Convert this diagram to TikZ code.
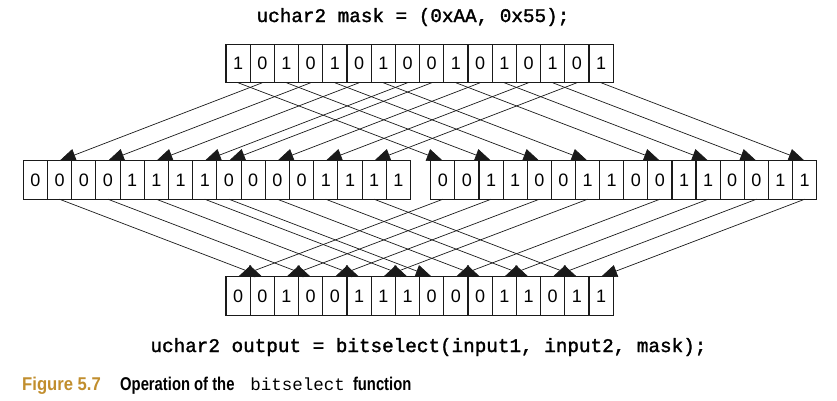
\documentclass[tikz,border=0pt]{standalone}
\usepackage{fontspec}
\setmainfont{Liberation Sans}
\newfontfamily\codefont{Liberation Mono}
\newfontfamily\listfont[FakeBold=1.6]{Liberation Mono}
\newfontfamily\capfont[FakeStretch=0.8]{Liberation Sans}
\newfontfamily\figfont[FakeStretch=0.9]{Liberation Sans}
\usetikzlibrary{arrows.meta}
\definecolor{ink}{HTML}{1A1A1A}
\definecolor{gold}{HTML}{C18E2E}
\tikzset{
  bit/.style={draw=ink,line width=1.1pt,minimum width=24.2pt,minimum height=38.5pt,inner sep=0pt,outer sep=0pt,font=\fontsize{18}{20}\selectfont},
  wire/.style={-{Triangle[length=16pt,width=12.5pt]},line width=0.7pt,ink},
  code/.style={anchor=base,inner sep=0pt,font=\listfont\fontsize{19.3}{22}\selectfont}
}

\begin{document}
\begin{tikzpicture}[x=1pt,y=-1pt]
\useasboundingbox (0,0) rectangle (837,400);
\node[code] (decl) at (413,22) {uchar2 mask = (0xAA, 0x55);};
% mask, input1, input2, output
\foreach \b [count=\i from 0] in {1,0,1,0,1,0,1,0,0,1,0,1,0,1,0,1}
  \node[bit] (m\i) at (238.1+24.2*\i,63.5) {\b};
\foreach \b [count=\i from 0] in {0,0,0,0,1,1,1,1,0,0,0,0,1,1,1,1}
  \node[bit] (p\i) at (35.4+24.2*\i,180) {\b};
\foreach \b [count=\i from 0] in {0,0,1,1,0,0,1,1,0,0,1,1,0,0,1,1}
  \node[bit] (q\i) at (442.8+24.12*\i,180) {\b};
\foreach \b [count=\i from 0] in {0,0,1,0,0,1,1,1,0,0,0,1,1,0,1,1}
  \node[bit] (o\i) at (238.1+24.2*\i,296) {\b};
% mask bit 1 picks input2 (q), 0 picks input1 (p)
\foreach \i/\s in {0/q,1/p,2/q,3/p,4/q,5/p,6/q,7/p,8/p,9/q,10/p,11/q,12/p,13/q,14/p,15/q} {
  \draw[wire] (m\i.south) -- (\s\i.north);
  \draw[wire] (\s\i.south) -- (o\i.north);
}
\node[code] (call) at (428.5,352) {uchar2 output = bitselect(input1, input2, mask);};
\node[anchor=base west,inner sep=0pt,text=gold,font=\figfont\bfseries\fontsize{18.5}{20}\selectfont] (fig) at (22,390) {Figure 5.7};
\node[anchor=base west,inner sep=0pt,font=\capfont\bfseries\fontsize{18.5}{20}\selectfont] (capt) at (120,390)
  {Operation of the\hspace{16pt}{\codefont\mdseries\fontsize{17.5}{20}\selectfont bitselect}\hspace{8pt}function};
\end{tikzpicture}
\end{document}
